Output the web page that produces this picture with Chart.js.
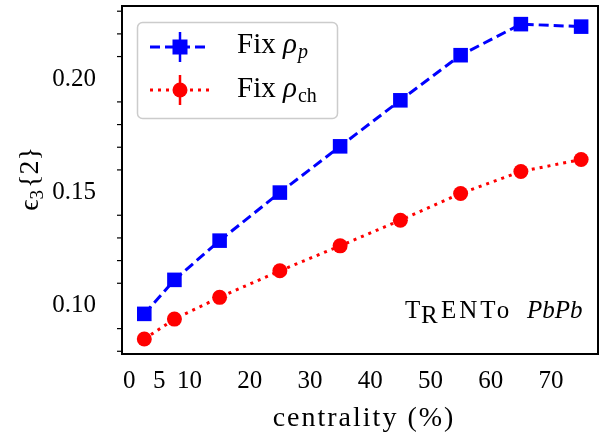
<!DOCTYPE html>
<html lang="en">
<head>
    <meta charset="UTF-8">
    <title>eps3{2} vs centrality</title>
    <style>
        body { margin: 0; background: #fff; }
        .chart-container { position: relative; width: 600px; height: 434px; }
    </style>
    <script src="https://cdn.jsdelivr.net/npm/chart.js"></script>
</head>
<body>
    <div class="chart-container">
        <canvas id="eps3Chart"></canvas>
    </div>

    <script>
        // Dados
        const centralidade = [2.5, 7.5, 15, 25, 35, 45, 55, 65, 75];
        const fixRhoP  = [0.0965, 0.1115, 0.1288, 0.1500, 0.1704, 0.1907, 0.2106, 0.2243, 0.2232];
        const fixRhoCh = [0.0854, 0.0942, 0.1038, 0.1155, 0.1265, 0.1378, 0.1496, 0.1593, 0.1646];
        const xTicks = [0, 5, 10, 20, 30, 40, 50, 60, 70];
        const yTicks = [0.10, 0.15, 0.20];
        const yMinorTicks = [0.08, 0.09, 0.11, 0.12, 0.13, 0.14, 0.16, 0.17, 0.18, 0.19, 0.21, 0.22, 0.23];

        const SERIF = '"Liberation Serif", "DejaVu Serif", serif';

        // spines, minor ticks, titles, legend and TRENTo label
        const extras = {
            id: 'extras',
            afterDraw(chart) {
                const ctx = chart.ctx;
                const y = chart.scales.y;
                const a = chart.chartArea;
                ctx.save();
                ctx.strokeStyle = '#000';
                ctx.lineWidth = 2;
                ctx.strokeRect(a.left, a.top, a.right - a.left, a.bottom - a.top);
                ctx.lineWidth = 1.2;
                yMinorTicks.forEach(v => {
                    const py = y.getPixelForValue(v);
                    ctx.beginPath();
                    ctx.moveTo(a.left - 5, py);
                    ctx.lineTo(a.left, py);
                    ctx.stroke();
                });

                // x title
                ctx.fillStyle = '#000';
                ctx.font = '28px ' + SERIF;
                ctx.letterSpacing = '2px';
                ctx.textAlign = 'center';
                ctx.textBaseline = 'alphabetic';
                ctx.fillText('centrality (%)', 364, 426);
                ctx.letterSpacing = '0px';
                ctx.textAlign = 'left';

                // y title
                ctx.translate(38, 180);
                ctx.rotate(-Math.PI / 2);
                ctx.font = '28px ' + SERIF;
                const w1 = ctx.measureText('ϵ').width;
                ctx.font = '19px ' + SERIF;
                const w2 = ctx.measureText('3').width;
                ctx.font = '28px ' + SERIF;
                const w3 = ctx.measureText('{2}').width;
                const x0 = -(w1 + w2 + w3) / 2;
                ctx.fillText('ϵ', x0, 0);
                ctx.font = '19px ' + SERIF;
                ctx.fillText('3', x0 + w1, 5);
                ctx.font = '28px ' + SERIF;
                ctx.fillText('{2}', x0 + w1 + w2 + 2, 0);
                ctx.restore();

                // legenda
                ctx.save();
                ctx.fillStyle = 'rgba(255,255,255,0.8)';
                ctx.strokeStyle = '#cccccc';
                ctx.lineWidth = 1.5;
                ctx.beginPath();
                ctx.roundRect(137.5, 22.5, 200, 96, 5);
                ctx.fill();
                ctx.stroke();

                const entries = [
                    { y: 47, base: 53, color: '#0000ff', dash: [10, 5], marker: 'square', sub: 'p', subItalic: true },
                    { y: 90, base: 97, color: '#ff0000', dash: [3, 5], marker: 'circle', sub: 'ch', subItalic: false }
                ];
                entries.forEach(e => {
                    ctx.strokeStyle = e.color;
                    ctx.fillStyle = e.color;
                    ctx.lineWidth = 3;
                    ctx.setLineDash(e.dash);
                    ctx.beginPath();
                    ctx.moveTo(150, e.y);
                    ctx.lineTo(210, e.y);
                    ctx.stroke();
                    ctx.setLineDash([]);
                    ctx.lineWidth = 2.5;
                    ctx.beginPath();
                    ctx.moveTo(180, e.y - 15);
                    ctx.lineTo(180, e.y + 15);
                    ctx.stroke();
                    if (e.marker === 'square') {
                        ctx.fillRect(172.5, e.y - 7.5, 15, 15);
                    } else {
                        ctx.beginPath();
                        ctx.arc(180, e.y, 7.5, 0, Math.PI * 2);
                        ctx.fill();
                    }
                    ctx.fillStyle = '#000';
                    ctx.font = '29px ' + SERIF;
                    ctx.fillText('Fix', 237, e.base);
                    let xx = 283;
                    ctx.font = 'italic 29px ' + SERIF;
                    ctx.fillText('ρ', xx, e.base);
                    xx += ctx.measureText('ρ').width + 1;
                    ctx.font = (e.subItalic ? 'italic ' : '') + '20px ' + SERIF;
                    ctx.fillText(e.sub, xx, e.base + 5);
                });

                // TRENTo PbPb
                ctx.fillStyle = '#000';
                const ty = 318;
                ctx.font = '25px ' + SERIF;
                ctx.fillText('T', 405, ty);
                ctx.fillText('R', 421, ty + 5);
                ctx.letterSpacing = '3px';
                ctx.fillText('ENTo', 441, ty);
                ctx.letterSpacing = '0px';
                ctx.font = 'italic 25px ' + SERIF;
                ctx.fillText('PbPb', 527, ty);
                ctx.restore();
            }
        };

        const ctx = document.getElementById('eps3Chart').getContext('2d');
        new Chart(ctx, {
            type: 'line',
            data: {
                datasets: [{
                    label: 'Fix ρp',
                    data: centralidade.map((c, i) => ({ x: c, y: fixRhoP[i] })),
                    borderColor: '#0000ff',
                    backgroundColor: '#0000ff',
                    borderWidth: 3,
                    borderDash: [10, 5],
                    pointStyle: 'rect',
                    pointRadius: 10.3,
                    pointBorderWidth: 0,
                    tension: 0
                }, {
                    label: 'Fix ρch',
                    data: centralidade.map((c, i) => ({ x: c, y: fixRhoCh[i] })),
                    borderColor: '#ff0000',
                    backgroundColor: '#ff0000',
                    borderWidth: 3,
                    borderDash: [3, 5],
                    pointStyle: 'circle',
                    pointRadius: 7.5,
                    pointBorderWidth: 0,
                    tension: 0
                }]
            },
            options: {
                responsive: true,
                maintainAspectRatio: false,
                animation: false,
                layout: { autoPadding: false, padding: { top: 6, right: 2, left: 0, bottom: 0 } },
                plugins: {
                    legend: { display: false },
                    tooltip: { enabled: false }
                },
                scales: {
                    x: {
                        type: 'linear',
                        min: -1.2,
                        max: 77.8,
                        afterBuildTicks: s => { s.ticks = xTicks.map(v => ({ value: v })); },
                        afterFit: s => { s.height = 80; s.paddingLeft = 0; s.paddingRight = 0; },
                        grid: { display: false, drawTicks: true, tickLength: 9, tickColor: '#000', tickWidth: 2 },
                        border: { display: true, color: '#000', width: 2 },
                        ticks: {
                            color: '#000',
                            font: { family: SERIF, size: 25 },
                            padding: 3,
                            maxRotation: 0,
                            autoSkip: false
                        }
                    },
                    y: {
                        type: 'linear',
                        min: 0.0788,
                        max: 0.2323,
                        afterBuildTicks: s => { s.ticks = yTicks.map(v => ({ value: v })); },
                        afterFit: s => { s.width = 122; s.paddingTop = 0; s.paddingBottom = 0; },
                        grid: { display: false, drawTicks: true, tickLength: 15, tickColor: '#000', tickWidth: 2 },
                        border: { display: true, color: '#000', width: 2 },
                        ticks: {
                            color: '#000',
                            font: { family: SERIF, size: 25 },
                            padding: 11,
                            callback: v => v.toFixed(2)
                        }
                    }
                }
            },
            plugins: [extras]
        });
    </script>
</body>
</html>
